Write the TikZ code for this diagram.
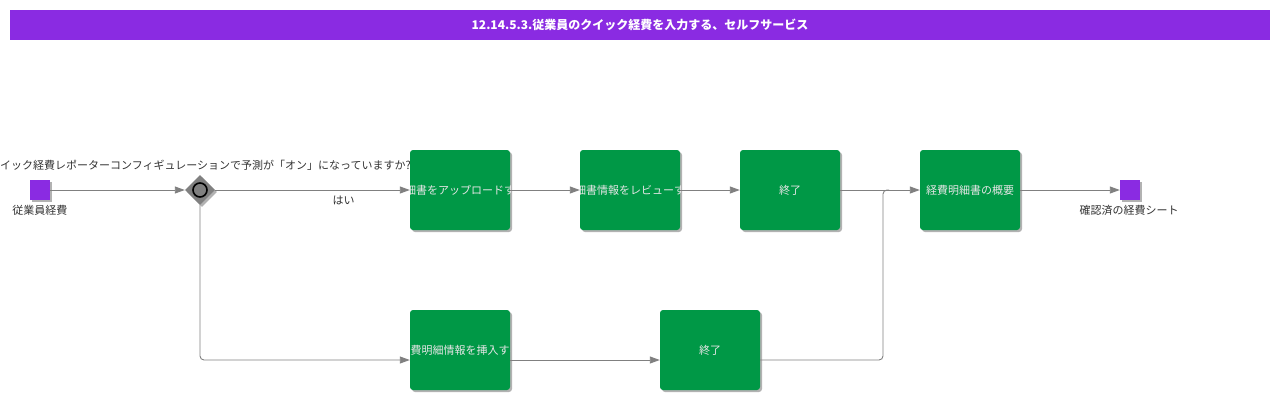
\documentclass[tikz,border=0pt]{standalone}
\usepackage{fontspec}
\setmainfont{Noto Sans CJK JP}
\usetikzlibrary{shapes.geometric,arrows.meta,shadows}
\definecolor{titlepurple}{HTML}{8A2BE2}
\definecolor{taskgreen}{HTML}{009846}
\definecolor{linegray}{HTML}{808080}
\definecolor{labelgray}{HTML}{333333}
\definecolor{tasktextc}{HTML}{E6E6E6}
\tikzset{
  x=1pt, y=-1pt,
  shad/.style={drop shadow={shadow xshift=2pt, shadow yshift=-2pt, fill=black, opacity=0.3}},
  task/.style={rectangle, rounded corners=3pt, fill=taskgreen, minimum width=100pt, minimum height=80pt, inner sep=0pt, shad},
  tasktext/.style={text=tasktextc, font=\fontsize{11}{13}\selectfont, inner sep=0pt},
  event/.style={rectangle, fill=titlepurple, minimum size=20pt, inner sep=0pt, shad},
  lbl/.style={text=labelgray, font=\fontsize{11}{13}\selectfont, inner sep=0pt},
  flow/.style={draw=linegray, line width=0.9pt, -{Triangle[length=10pt,width=7pt]}, color=linegray},
}
\begin{document}
\begin{tikzpicture}
\useasboundingbox (0,0) rectangle (1280,400);
\fill[white] (0,0) rectangle (1280,400);
% title
\node[rectangle, fill=titlepurple, minimum width=1260pt, minimum height=30pt, inner sep=0pt, text=white, font=\fontsize{12}{14}\selectfont\bfseries] (title) at (640,25) {12.14.5.3.従業員のクイック経費を入力する、セルフサービス};
% start event
\node[event] (s) at (40,190) {};
\node[lbl, anchor=north] (sl) at (40,205) {従業員経費};
% gateway
\node[diamond, fill=linegray, minimum width=30pt, minimum height=30pt, inner sep=0pt, shad] (g) at (200,190) {};
\node[circle, draw=black, fill=linegray, line width=1.6pt, minimum size=14pt, inner sep=0pt] (gc) at (200,190) {};
\node[lbl, anchor=base] (gl) at (200,169) {クイック経費レポーターコンフィギュレーションで予測が「オン」になっていますか?};
% tasks
\node[task, path picture={\node[tasktext] at (path picture bounding box.center) {明細書をアップロードする};}] (b1) at (460,190) {};
\node[task, path picture={\node[tasktext] at (path picture bounding box.center) {明細書情報をレビューする};}] (b2) at (630,190) {};
\node[task, path picture={\node[tasktext] at (path picture bounding box.center) {終了};}] (b3) at (790,190) {};
\node[task, path picture={\node[tasktext] at (path picture bounding box.center) {経費明細書の概要};}] (b4) at (970,190) {};
\node[task, path picture={\node[tasktext] at (path picture bounding box.center) {経費明細情報を挿入する};}] (b5) at (460,350) {};
\node[task, path picture={\node[tasktext] at (path picture bounding box.center) {終了};}] (b6) at (710,350) {};
% end event
\node[event] (e) at (1130,190) {};
\node[lbl, anchor=north] (el) at (1129,205) {確認済の経費シート};
% junction
\coordinate (j) at (883,190);
% connectors
\draw[flow] (s.east) -- (g.west);
\draw[flow] (g.east) -- (b1.west) node[lbl, pos=0.66, anchor=north, yshift=-6pt] (yes) {はい};
\draw[flow] (b1.east) -- (b2.west);
\draw[flow] (b2.east) -- (b3.west);
\draw[flow] (b3.east) -- (b4.west);
\draw[flow] (b4.east) -- (e.west);
\draw[flow, rounded corners=4pt] (g.south) |- (b5.west |- 0,360);
\draw[flow] (b5.east |- 0,360) -- (b6.west |- 0,360);
\draw[draw=linegray, line width=0.9pt, rounded corners=4pt] (b6.east |- 0,360) -| (j) -- ++(6,0);
\end{tikzpicture}
\end{document}
